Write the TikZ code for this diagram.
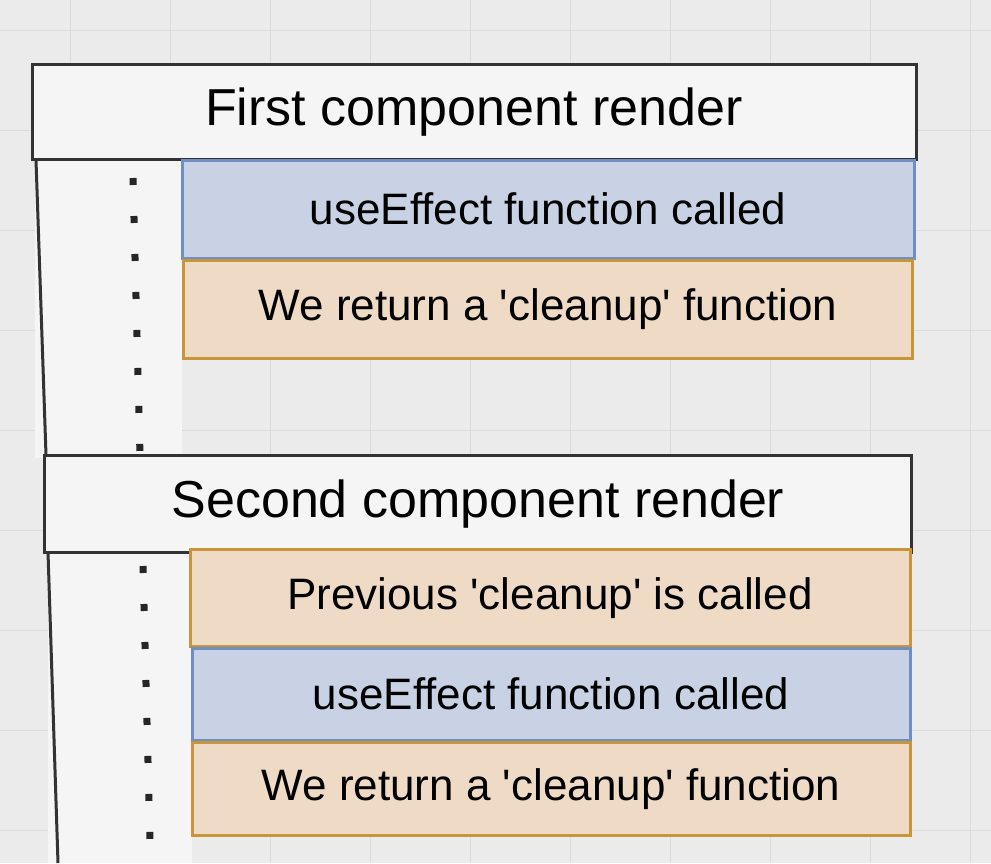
\documentclass[tikz,border=0pt]{standalone}
\usepackage{fontspec}
\setmainfont{Liberation Sans}
\definecolor{bfill}{HTML}{C8D2E4}
\definecolor{bdraw}{HTML}{6F8FC4}
\definecolor{ofill}{HTML}{EFDAC6}
\definecolor{odraw}{HTML}{C8963A}
\newcommand{\q}{\textquotesingle}
\begin{document}
\begin{tikzpicture}[x=0.5pt,y=-0.5pt,
  hdr/.style={draw=black!80,line width=1.5pt,fill=white!92!gray,font=\fontsize{26}{30}\selectfont,inner sep=0pt},
  blu/.style={draw=bdraw,line width=1.5pt,fill=bfill,font=\fontsize{22}{25}\selectfont,inner sep=0pt},
  org/.style={draw=odraw,line width=1.5pt,fill=ofill,font=\fontsize{22}{25}\selectfont,inner sep=0pt},
  dots/.style={line width=3.5pt,dash pattern=on 3.5pt off 15.5pt,black!85},
  edge/.style={line width=1.5pt,black!80}]
\fill[black!8] (0,0) rectangle (991,863);
\useasboundingbox (0,0) rectangle (991,863);
\foreach \x in {70,170,270,370,470,570,670,770,870,970} \draw[black!14,line width=0.4pt] (\x,0)--(\x,863);
\foreach \y in {30,130,230,330,430,530,630,730,830} \draw[black!14,line width=0.4pt] (0,\y)--(991,\y);
\fill[white!92!gray] (35,160) rectangle (182,458);
\fill[white!92!gray] (48,552) rectangle (192,863);
\node[hdr,minimum width=884pt*0.5,minimum height=95pt*0.5] (h1) at (474,112) {First component render};
\node[blu,minimum width=732pt*0.5,minimum height=98pt*0.5] (b1) at (548,209) {useEffect function called};
\node[org,minimum width=729pt*0.5,minimum height=98pt*0.5] (o1) at (548,309) {We return a \q cleanup\q{} function};
\node[hdr,minimum width=867pt*0.5,minimum height=97pt*0.5] (h2) at (478,504) {Second component render};
\node[org,minimum width=720pt*0.5,minimum height=97pt*0.5] (o2) at (550,598) {Previous \q cleanup\q{} is called};
\node[blu,minimum width=718pt*0.5,minimum height=92pt*0.5] (b2) at (551,694) {useEffect function called};
\node[org,minimum width=718pt*0.5,minimum height=93pt*0.5] (o3) at (551,789) {We return a \q cleanup\q{} function};
\coordinate (l1a) at (36,160); \coordinate (l1b) at (46,455);
\coordinate (l2a) at (48,552); \coordinate (l2b) at (58,863);
\draw[edge] (l1a)--(l1b);
\draw[edge] (l2a)--(l2b);
\coordinate (d1a) at (133,178); \coordinate (d1b) at (140,455);
\coordinate (d2a) at (143,566); \coordinate (d2b) at (150,840);
\draw[dots] (d1a)--(d1b);
\draw[dots] (d2a)--(d2b);
\end{tikzpicture}
\end{document}
